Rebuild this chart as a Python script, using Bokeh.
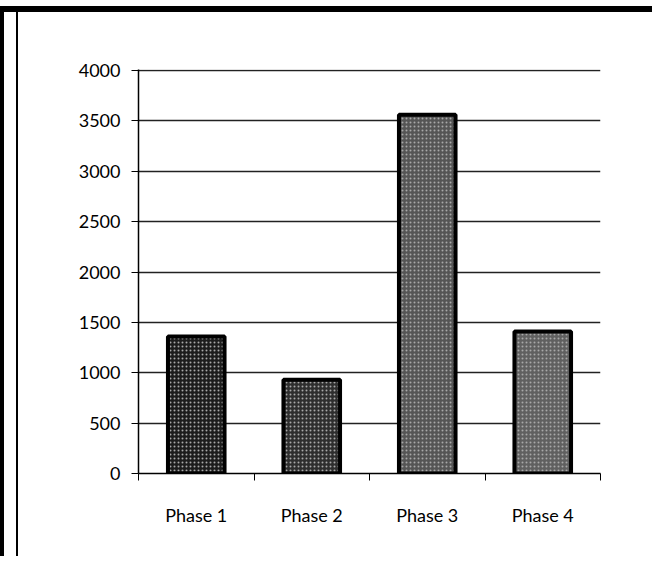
from bokeh.plotting import figure
from bokeh.models import Range1d, FixedTicker
from bokeh.embed import file_html
from bokeh.resources import INLINE

categories = ["Phase 1", "Phase 2", "Phase 3", "Phase 4"]
values = [1360, 930, 3560, 1410]
bar_fills = ["#1c1c1c", "#2e2e2e", "#555555", "#606060"]
y_ticks = [0, 500, 1000, 1500, 2000, 2500, 3000, 3500, 4000]

xs = [i + 0.5 for i in range(len(categories))]

p = figure(width=652, height=556, output_backend="svg", toolbar_location=None,
           x_range=Range1d(0, len(categories)), y_range=Range1d(0, 4010),
           min_border_left=138, min_border_right=52, min_border_top=69, min_border_bottom=83)
p.outline_line_color = None
p.background_fill_color = "white"
p.border_fill_color = None
# outer box lines of the scanned chart (drawn behind the transparent canvas border)
p.styles = {
    "background-color": "white",
    "box-shadow": ("inset 0 6px 0 0 white, inset 0 12px 0 0 black, "
                   "inset 4px 0 0 0 black, inset 16px 0 0 0 white, inset 18px 0 0 0 black"),
}

p.vbar(x=xs, top=values, width=0.49, bottom=0,
       fill_color=bar_fills, line_color="black", line_width=4,
       hatch_pattern="dot", hatch_color="#a8a8a8", hatch_scale=4, hatch_weight=1.2)

# x axis: labels at centres, tick marks between categories
p.xaxis.ticker = FixedTicker(ticks=xs, minor_ticks=list(range(len(categories) + 1)))
p.xaxis.major_label_overrides = {x: c for x, c in zip(xs, categories)}
p.xaxis.major_tick_out = 0
p.xaxis.major_tick_in = 0
p.xaxis.minor_tick_out = 7
p.xaxis.minor_tick_in = 0
p.xaxis.minor_tick_line_color = "black"
p.xaxis.axis_line_color = "black"
p.xaxis.axis_line_width = 1.5
p.xaxis.major_label_standoff = 23
p.xaxis.major_label_text_font = "Lato"
p.xaxis.major_label_text_font_size = "18px"
p.xaxis.major_label_text_color = "black"
p.xgrid.grid_line_color = None

p.yaxis.ticker = FixedTicker(ticks=y_ticks)
p.yaxis.major_tick_out = 7
p.yaxis.major_tick_in = 0
p.yaxis.minor_tick_line_color = None
p.yaxis.axis_line_color = "black"
p.yaxis.axis_line_width = 1.5
p.yaxis.major_tick_line_color = "black"
p.yaxis.major_label_standoff = 11
p.yaxis.major_label_text_font = "Lato"
p.yaxis.major_label_text_font_size = "18px"
p.yaxis.major_label_text_color = "black"
p.ygrid.ticker = FixedTicker(ticks=y_ticks)
p.ygrid.grid_line_color = "#222222"
p.ygrid.grid_line_width = 1.3

open("out.html", "w").write(file_html(p, INLINE))
